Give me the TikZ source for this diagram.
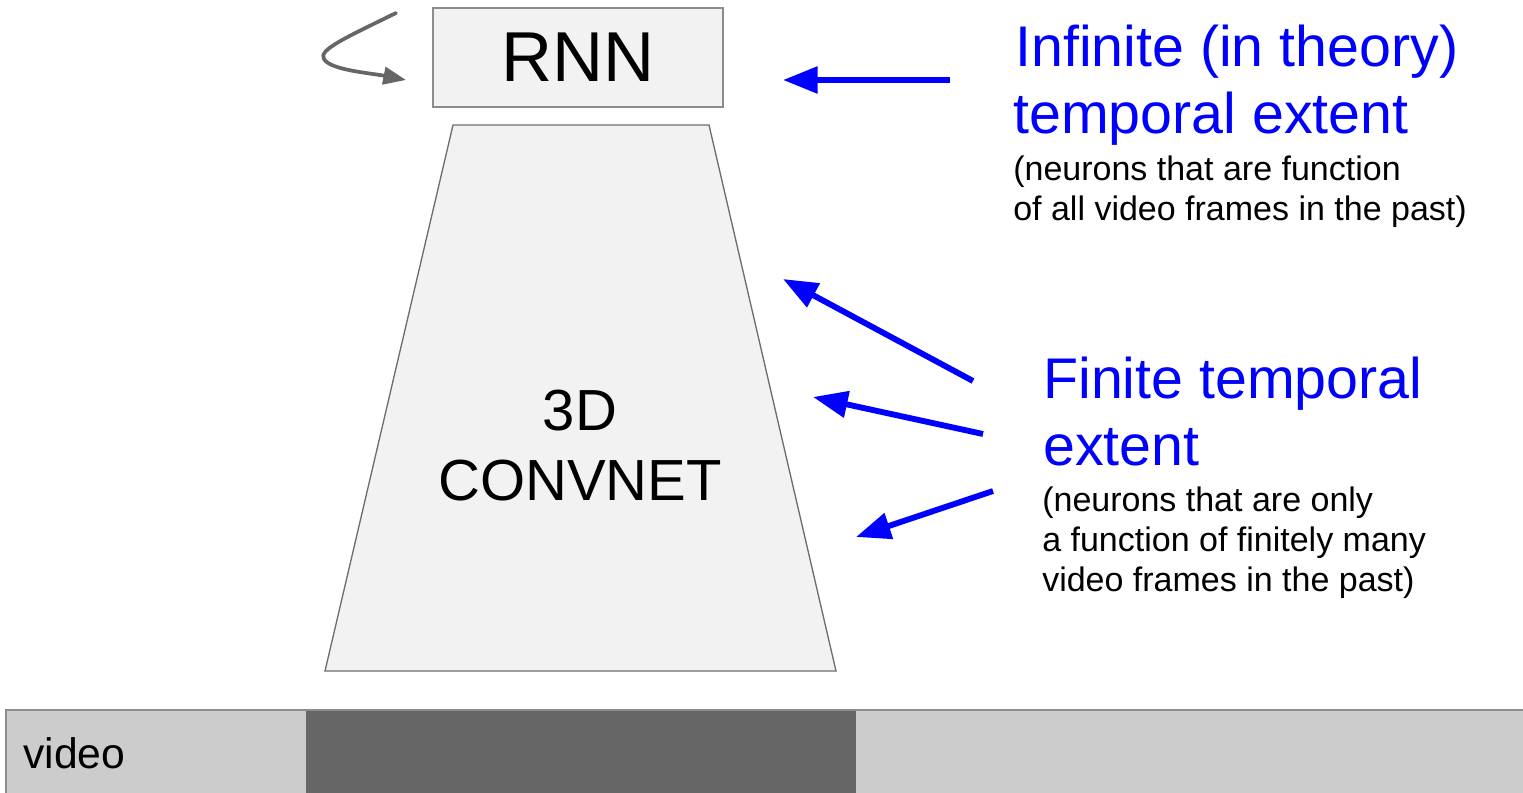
\documentclass[tikz,border=0pt]{standalone}
\usepackage{fontspec}
\setmainfont{Liberation Sans}
\usetikzlibrary{arrows.meta}
\definecolor{boxfill}{HTML}{F2F2F2}
\definecolor{boxline}{HTML}{8C8C8C}
\definecolor{trapline}{HTML}{6E6E6E}
\definecolor{loopgray}{HTML}{666666}
\definecolor{barlight}{HTML}{CCCCCC}
\definecolor{bardark}{HTML}{666666}
\definecolor{pureblue}{HTML}{0000FF}
\tikzset{
  titletext/.style={text=pureblue, font=\fontsize{43}{50}\selectfont, anchor=base west, inner sep=0pt},
  notetext/.style={text=black, font=\fontsize{25.5}{30}\selectfont, anchor=base west, inner sep=0pt},
  pointer/.style={draw=pureblue, line width=4.4pt, -{Triangle[length=26pt, width=19.5pt]}},
  selfloop/.style={draw=loopgray, line width=2.8pt, line cap=round, -{Triangle[length=17pt, width=13pt]}},
}
\begin{document}
\begin{tikzpicture}[x=0.75pt, y=-0.75pt]
\useasboundingbox (0,0) rectangle (1523,792);

% recurrent unit
\node[draw=boxline, fill=boxfill, line width=0.8pt, minimum width=217.5pt, minimum height=74.25pt,
      inner sep=0pt, font=\fontsize{53}{60}\selectfont] (rnn) at (578,57.5) {RNN};

% convolutional trunk
\draw[draw=trapline, fill=boxfill, line width=1pt]
  (453,125) -- (709,125) -- (836,671) -- (325,671) -- cycle;
\node[font=\fontsize{43.5}{51}\selectfont, anchor=base, inner sep=0pt] (conv3d) at (580,430) {3D};
\node[font=\fontsize{43.5}{51}\selectfont, anchor=base, inner sep=0pt] (convnet) at (580,500) {CONVNET};

% self-loop of the recurrent unit
\coordinate (loopstart) at (396,13);
\coordinate (loopturn) at (324,59);
\coordinate (loopend) at (406,80);
\draw[selfloop] (loopstart) .. controls (345,38) and (318,50) .. (loopturn)
  .. controls (330,70) and (370,73) .. (loopend);

% video timeline
\fill[barlight] (6,710) rectangle (306,795);
\fill[bardark] (306,710) rectangle (856,795);
\fill[barlight] (856,710) rectangle (1523,795);
\draw[draw=boxline, line width=1pt] (6,795) -- (6,710) -- (1523,710);
\node[font=\fontsize{32}{38}\selectfont, anchor=base west, inner sep=0pt] (video) at (23,768) {video};

% annotations
\node[titletext] (inf1) at (1015,66) {Infinite (in theory)};
\node[titletext] (inf2) at (1013,133) {temporal extent};
\node[notetext] (infn1) at (1013,180) {(neurons that are function};
\node[notetext] (infn2) at (1013,220) {of all video frames in the past)};

\node[titletext] (fin1) at (1043,398) {Finite temporal};
\node[titletext] (fin2) at (1043,465) {extent};
\node[notetext] (finn1) at (1042,511) {(neurons that are only};
\node[notetext] (finn2) at (1042,551) {a function of finitely many};
\node[notetext] (finn3) at (1042,591) {video frames in the past)};

% pointers
\coordinate (pa) at (950,80);   \coordinate (ta) at (783,80);
\coordinate (pb) at (973,381);  \coordinate (tb) at (783,279);
\coordinate (pc) at (983,434);  \coordinate (tc) at (813,397);
\coordinate (pd) at (993,491);  \coordinate (td) at (856,537);
\draw[pointer] (pa) -- (ta);
\draw[pointer] (pb) -- (tb);
\draw[pointer] (pc) -- (tc);
\draw[pointer] (pd) -- (td);
\end{tikzpicture}
\end{document}
